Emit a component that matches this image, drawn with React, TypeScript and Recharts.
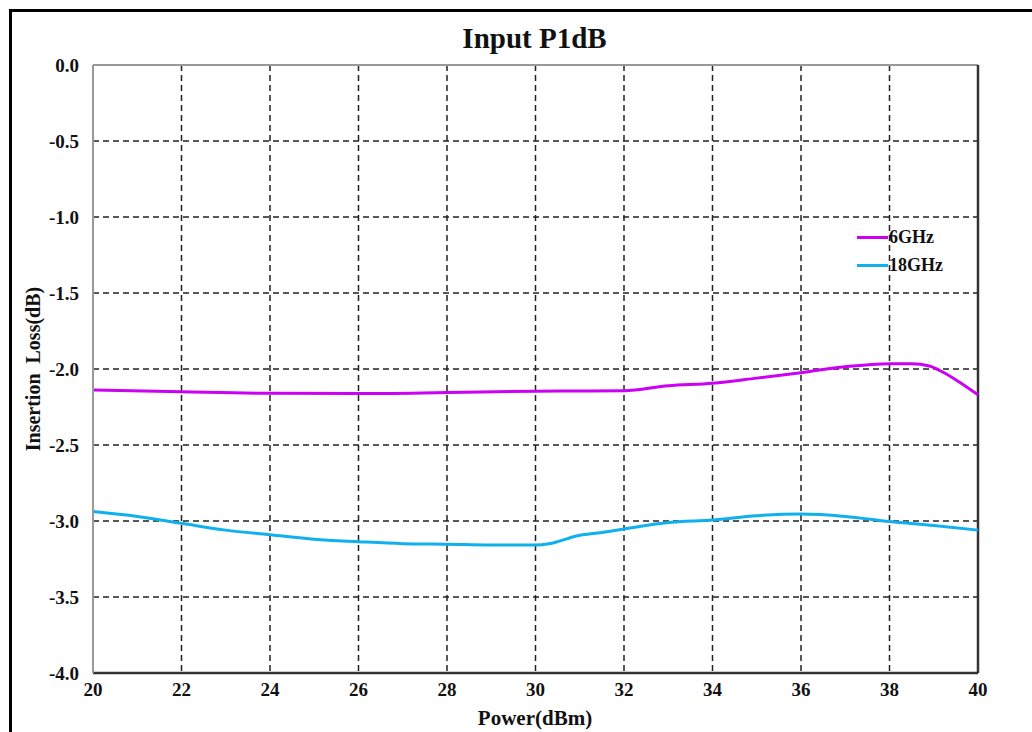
import React from 'react';
import {
  LineChart,
  Line,
  XAxis,
  YAxis,
  CartesianGrid,
  ReferenceLine,
} from 'recharts';

// --- DATA ---
const power6 = [20, 22, 24, 26, 28, 30, 31, 32, 33, 34, 35, 36, 37, 38, 38.5, 38.9, 39.2, 39.6, 40];
const loss6 = [-2.138, -2.15, -2.16, -2.162, -2.155, -2.146, -2.145, -2.143, -2.11, -2.094, -2.06, -2.024, -1.985, -1.965, -1.965, -1.98, -2.02, -2.09, -2.17];

const power18 = [20, 21, 22, 23, 24, 25, 26, 27, 28, 29, 30, 30.3, 30.5, 30.9, 31.5, 32, 33, 34, 35, 36, 37, 38, 39, 40];
const loss18 = [-2.938, -2.97, -3.015, -3.06, -3.09, -3.12, -3.136, -3.149, -3.153, -3.158, -3.158, -3.15, -3.136, -3.1, -3.075, -3.053, -3.01, -2.993, -2.965, -2.954, -2.97, -3.004, -3.03, -3.06];

const xTicks = [20, 22, 24, 26, 28, 30, 32, 34, 36, 38, 40];
const yTicks = [0, -0.5, -1, -1.5, -2, -2.5, -3, -3.5, -4];

const series = [
  { name: '6GHz', color: '#CC00F5', xs: power6, ys: loss6 },
  { name: '18GHz', color: '#10B0EF', xs: power18, ys: loss18 },
];

const FONT = '"Liberation Serif", "Times New Roman", serif';
const tickStyle = { fill: '#111', fontSize: 19, fontWeight: 700, fontFamily: FONT };

export default function App() {
  return (
    <div style={{ position: 'absolute', left: 0, top: 0, width: 1032, height: 732, overflow: 'hidden', background: '#fff', fontFamily: FONT, fontWeight: 700, color: '#111' }}>
      {/* outer frame, runs off the right and bottom edges */}
      <div style={{ position: 'absolute', left: 9, top: 9, width: 1100, height: 800, border: '3px solid #000' }} />

      <div style={{ position: 'absolute', left: 0, top: 20, width: 1069, textAlign: 'center', fontSize: 29, lineHeight: '36px' }}>
        Input P1dB
      </div>

      <div style={{ position: 'absolute', left: 0, top: 0 }}>
        <LineChart width={1032} height={732} margin={{ top: 65, right: 54, left: 33, bottom: 9 }}>
          <CartesianGrid stroke="#222" strokeWidth={1.5} strokeDasharray="6 4" />
          <XAxis
            type="number"
            dataKey="x"
            domain={[20, 40]}
            ticks={xTicks}
            allowDuplicatedCategory={false}
            height={50}
            axisLine={{ stroke: '#333', strokeWidth: 2.5 }}
            tickLine={false}
            tickSize={0}
            tickMargin={10}
            tick={tickStyle}
          />
          <YAxis
            type="number"
            domain={[-4, 0]}
            ticks={yTicks}
            width={60}
            axisLine={{ stroke: '#999', strokeWidth: 2 }}
            tickLine={false}
            tickSize={0}
            tickMargin={14}
            tickFormatter={(v: number) => v.toFixed(1)}
            tick={tickStyle}
          />
          <ReferenceLine y={0} stroke="#999" strokeWidth={2} />
          <ReferenceLine x={40} stroke="#333" strokeWidth={2.5} />
          {series.map((s) => (
            <Line
              key={s.name}
              name={s.name}
              data={s.xs.map((x, i) => ({ x, y: s.ys[i] }))}
              dataKey="y"
              type="monotone"
              stroke={s.color}
              strokeWidth={3}
              dot={false}
              activeDot={false}
              isAnimationActive={false}
            />
          ))}
        </LineChart>
      </div>

      {/* axis titles */}
      <div style={{ position: 'absolute', left: 435, top: 705, width: 200, textAlign: 'center', fontSize: 21, lineHeight: '26px' }}>
        Power(dBm)
      </div>
      <div style={{ position: 'absolute', left: 33 - 120, top: 369 - 13, width: 240, textAlign: 'center', fontSize: 20, lineHeight: '26px', whiteSpace: 'pre', transform: 'rotate(-90deg)' }}>
        {'Insertion  Loss(dB)'}
      </div>

      {/* legend */}
      <div style={{ position: 'absolute', left: 857, top: 223, fontSize: 18 }}>
        {series.map((s) => (
          <div key={s.name} style={{ display: 'flex', alignItems: 'center', height: 28 }}>
            <div style={{ width: 31, height: 3, background: s.color, marginRight: 1 }} />
            <span>{s.name}</span>
          </div>
        ))}
      </div>
    </div>
  );
}
